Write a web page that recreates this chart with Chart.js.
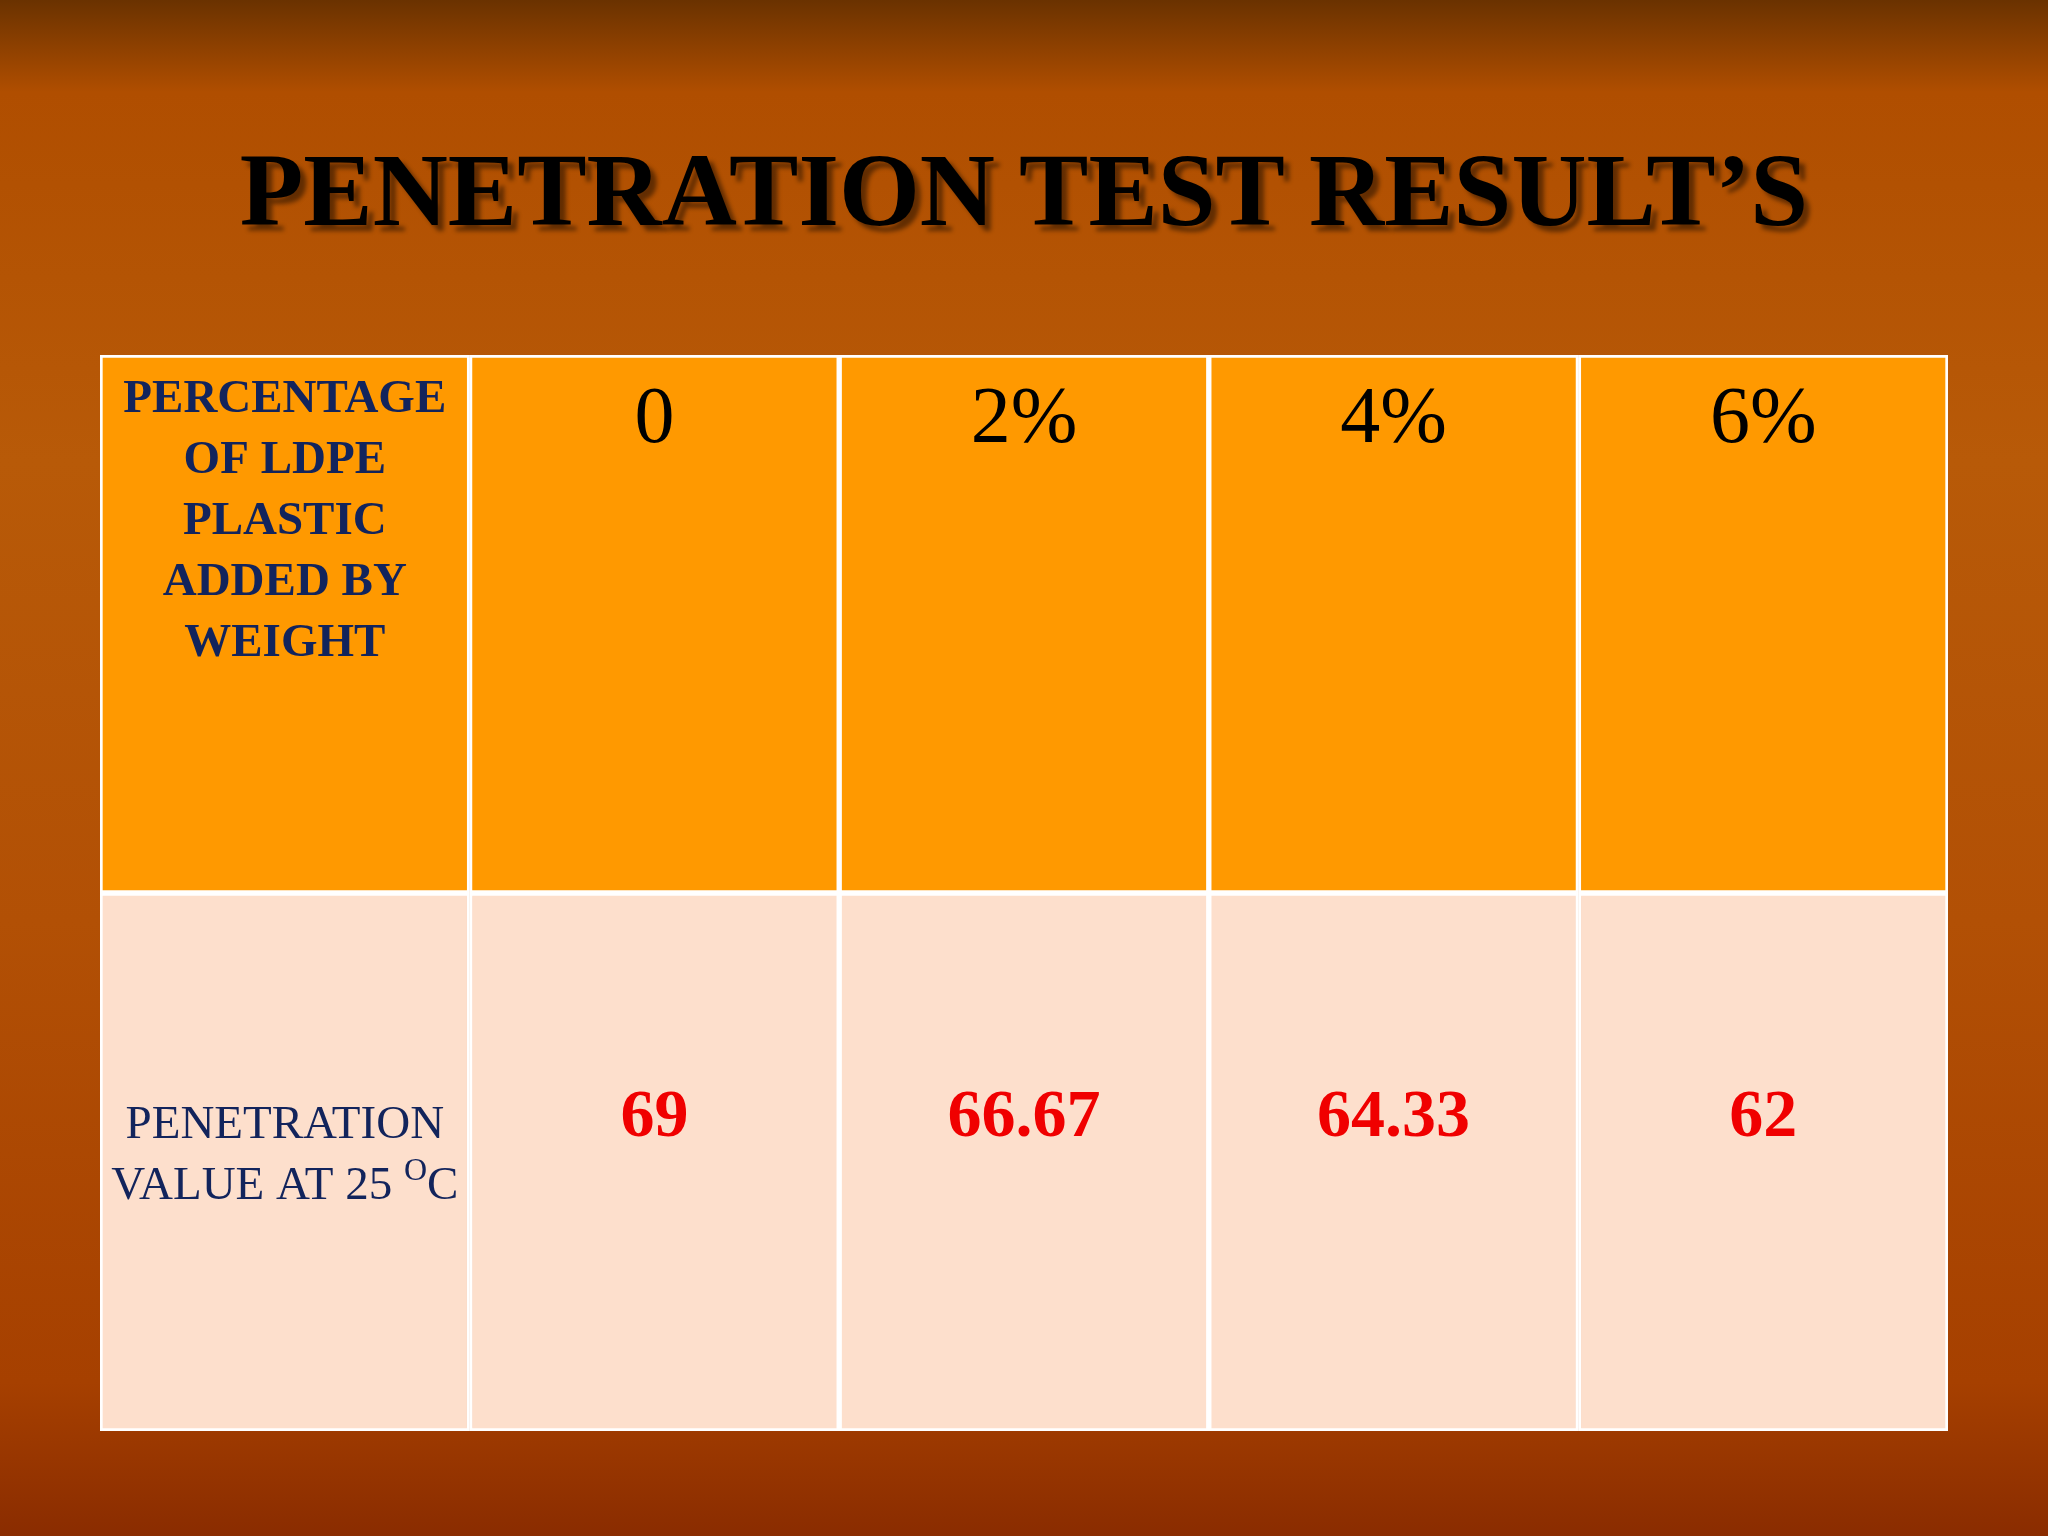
<!DOCTYPE html>
<html><head><meta charset="utf-8">
<script src="https://cdn.jsdelivr.net/npm/chart.js@4"></script>
<style>
html,body{margin:0;padding:0;width:2048px;height:1536px;overflow:hidden;}
body{background:linear-gradient(180deg,#6a3200 0%,#b04e00 6%,#b85a08 30%,#b25005 60%,#a64000 90%,#8a2c00 100%);position:relative;font-family:"Liberation Serif",serif;}
#title{position:absolute;top:130px;left:0;width:2048px;text-align:center;font:bold 104px "Liberation Serif",serif;color:#000;text-shadow:6px 6px 4px rgba(0,0,0,0.45);}
#wrap{position:absolute;left:100px;top:355px;width:1848px;height:1076px;}
</style></head><body>
<div id="title">PENETRATION TEST RESULT’S</div>
<div id="wrap"><canvas id="c"></canvas></div>
<script>
const rowHeaderTop = ["PERCENTAGE","OF LDPE","PLASTIC","ADDED BY","WEIGHT"];
const rowHeaderBottom = "PENETRATION|VALUE AT 25 |O|C";
const percentages = ["0","2%","4%","6%"];
const penetration = ["69","66.67","64.33","62"];
const columns = ["label"].concat(percentages);
const cellsValueRow = [1,1,1,1,1];
const cellsHeaderRow = [1,1,1,1,1];

const textPlugin = {
  id:'tbl',
  afterDatasetsDraw(chart){
    const ctx = chart.ctx;
    const lo = chart.getDatasetMeta(0).data, hi = chart.getDatasetMeta(1).data;
    ctx.save(); ctx.textAlign='center'; ctx.textBaseline='middle';
    hi.forEach((el,i)=>{
      const top = el.y;
      if(i===0){
        ctx.fillStyle='#12245c'; ctx.font='bold 47px "Liberation Serif"';
        rowHeaderTop.forEach((t,k)=>ctx.fillText(t,el.x,top+45+k*61));
      } else {
        ctx.fillStyle='#000'; ctx.font='80px "Liberation Serif"';
        ctx.fillText(percentages[i-1],el.x,top+66);
      }
    });
    lo.forEach((el,i)=>{
      const cy = (el.y+el.base)/2;
      if(i===0){
        const p=rowHeaderBottom.split('|');
        ctx.fillStyle='#12245c'; ctx.font='47px "Liberation Serif"';
        ctx.fillText(p[0],el.x,cy-36);
        const w1=ctx.measureText(p[1]).width;
        ctx.font='32px "Liberation Serif"'; const w2=ctx.measureText(p[2]).width;
        ctx.font='47px "Liberation Serif"'; const w3=ctx.measureText(p[3]).width;
        let x=el.x-(w1+w2+w3)/2; ctx.textAlign='left';
        ctx.fillText(p[1],x,cy+25); x+=w1;
        ctx.font='32px "Liberation Serif"'; ctx.fillText(p[2],x,cy+10); x+=w2;
        ctx.font='47px "Liberation Serif"'; ctx.fillText(p[3],x,cy+25);
        ctx.textAlign='center';
      } else {
        ctx.fillStyle='#f00000'; ctx.font='bold 68px "Liberation Serif"';
        ctx.fillText(penetration[i-1],el.x,cy-44);
      }
    });
    ctx.restore();
  }
};

new Chart(document.getElementById('c'),{
  type:'bar',
  data:{labels:columns,datasets:[
    {data:cellsValueRow,backgroundColor:'#fddfcc',borderColor:'#ffffff',borderWidth:3,borderSkipped:false,barPercentage:1,categoryPercentage:1},
    {data:cellsHeaderRow,backgroundColor:'#ff9900',borderColor:'#ffffff',borderWidth:3,borderSkipped:false,barPercentage:1,categoryPercentage:1}
  ]},
  options:{responsive:true,maintainAspectRatio:false,animation:false,
    layout:{padding:0},
    plugins:{legend:{display:false},tooltip:{enabled:false}},
    scales:{x:{stacked:true,display:false},y:{stacked:true,display:false,min:0,max:2}}
  },
  plugins:[textPlugin]
});
</script></body></html>
